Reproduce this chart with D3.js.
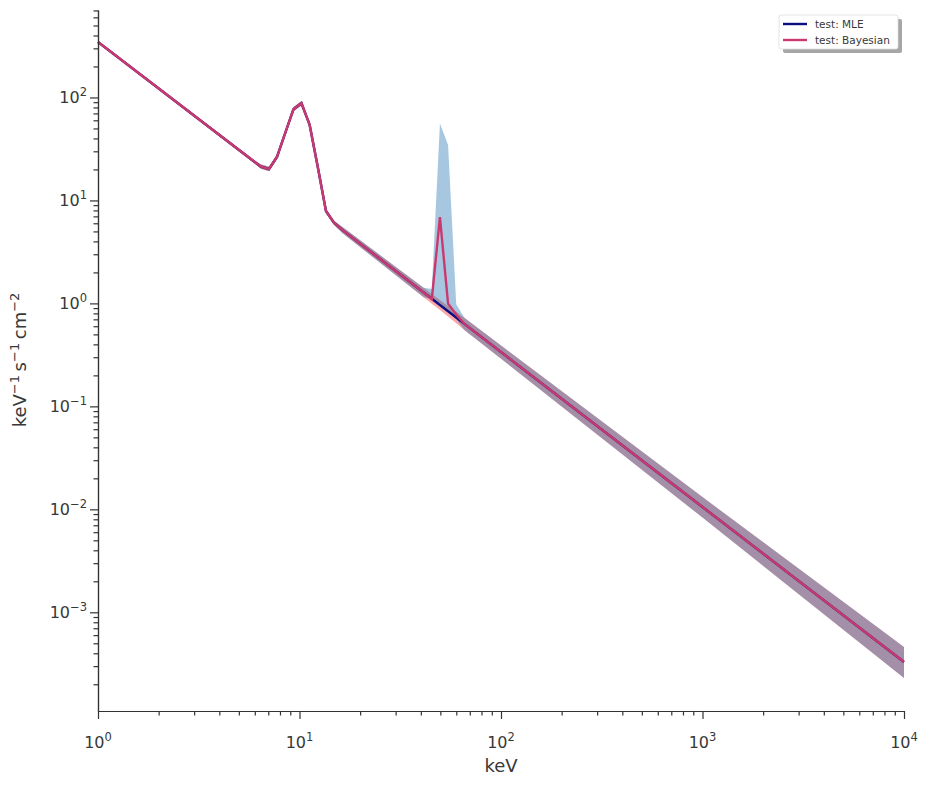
<!DOCTYPE html>
<html>
<head>
<meta charset="utf-8">
<script src="https://cdn.jsdelivr.net/npm/d3@7"></script>
<style>
  body { margin: 0; background: #fff; }
  text { font-family: "DejaVu Sans", sans-serif; fill: #383838; }
</style>
</head>
<body>
<svg id="chart" width="929" height="786"></svg>
<script>
// energies (keV) where the curves bend
var energy = [1, 5.86, 6.43, 7.06, 7.74, 8.50, 9.33, 10.23, 11.23, 12.33, 13.53, 14.85, 16.30,
              41.32, 45.35, 49.77, 54.62, 59.95, 65.79, 1000, 10000];

// MLE fit and its contour
var mleLine  = [346, 24.4, 21.3, 20.2, 26.6, 45.2, 76.8, 87.9, 54.1, 21.0, 7.9, 6.05, 5.18,
                1.276, 1.109, 0.964, 0.838, 0.729, 0.633, 0.01053, 3.29e-4];
var mleUpper = [354, 25.2, 22.4, 21.2, 27.9, 47.5, 80.6, 92.3, 56.8, 22.1, 8.30, 6.36, 5.56,
                1.415, 1.236, 1.076, 0.940, 0.830, 0.724, 0.01316, 4.6e-4];
var mleLower = [338, 23.6, 20.3, 19.2, 25.3, 43.0, 73.1, 83.7, 51.5, 20.0, 7.52, 5.76, 4.83,
                1.150, 0.994, 0.862, 0.746, 0.640, 0.553, 0.00832, 2.30e-4];

// Bayesian fit and its contour
var bayesLine  = [346, 24.4, 21.3, 20.2, 26.6, 45.2, 76.8, 87.9, 54.1, 21.0, 7.9, 6.05, 5.18,
                  1.276, 1.10, 6.87, 0.99, 0.78, 0.633, 0.01053, 3.29e-4];
var bayesUpper = [354, 25.2, 22.4, 21.2, 27.9, 47.5, 80.6, 92.3, 56.8, 22.1, 8.30, 6.36, 5.56,
                  1.415, 1.38, 56, 34.6, 0.98, 0.724, 0.01316, 4.6e-4];
var bayesLower = [338, 23.6, 20.3, 19.2, 25.3, 43.0, 73.1, 83.7, 51.5, 20.0, 7.52, 5.76, 4.83,
                  1.150, 1.11, 1.0, 0.86, 0.70, 0.553, 0.00832, 2.30e-4];

var xTicks = [1, 10, 100, 1000, 10000];
var xTickExp = ['0', '1', '2', '3', '4'];
var yTicks = [1e-3, 1e-2, 1e-1, 1, 10, 100];
var yTickExp = ['\u22123', '\u22122', '\u22121', '0', '1', '2'];

var legendNames = ['test: MLE', 'test: Bayesian'];
var colors = { mle: '#0d0d80', bayes: '#c9396f', mleBand: '#f24040', bayesBand: '#045fa6' };

var svg = d3.select('#chart');
var plotLeft = 98, plotRight = 904, plotTop = 10, plotBottom = 711;

var x = d3.scaleLog().domain([1, 1e4]).range([plotLeft, plotRight]);
var y = d3.scaleLog().domain([1.1e-4, 707]).range([plotBottom, plotTop]);

var rows = energy.map(function(e, i) {
    return { e: e, ml: mleLine[i], mu: mleUpper[i], mlo: mleLower[i],
             bl: bayesLine[i], bu: bayesUpper[i], blo: bayesLower[i] };
});

var plot = svg.append('g');

plot.append('path')
    .datum(rows)
    .attr('fill', colors.mleBand)
    .attr('fill-opacity', 0.45)
    .attr('d', d3.area()
        .x(function(d) { return x(d.e); })
        .y0(function(d) { return y(d.mlo); })
        .y1(function(d) { return y(d.mu); }));

plot.append('path')
    .datum(rows)
    .attr('fill', colors.bayesBand)
    .attr('fill-opacity', 0.35)
    .attr('d', d3.area()
        .x(function(d) { return x(d.e); })
        .y0(function(d) { return y(d.blo); })
        .y1(function(d) { return y(d.bu); }));

plot.append('path')
    .datum(rows)
    .attr('fill', 'none')
    .attr('stroke', colors.mle)
    .attr('stroke-width', 2.4)
    .attr('d', d3.line()
        .x(function(d) { return x(d.e); })
        .y(function(d) { return y(d.ml); }));

plot.append('path')
    .datum(rows)
    .attr('fill', 'none')
    .attr('stroke', colors.bayes)
    .attr('stroke-width', 2.4)
    .attr('d', d3.line()
        .x(function(d) { return x(d.e); })
        .y(function(d) { return y(d.bl); }));

// minor ticks
function minors(lo, hi) {
    var out = [];
    for (var p = Math.floor(Math.log10(lo)); p <= Math.ceil(Math.log10(hi)); p++) {
        for (var k = 2; k <= 9; k++) {
            var v = k * Math.pow(10, p);
            if (v >= lo && v <= hi) out.push(v);
        }
    }
    return out;
}

function styleAxis(g) {
    g.selectAll('path, line').attr('stroke', '#333').attr('stroke-width', 1.2);
    g.selectAll('text').remove();
}

svg.append('g')
    .attr('transform', 'translate(0,' + plotBottom + ')')
    .call(d3.axisBottom(x).tickValues(minors(1, 1e4)).tickSize(4.5).tickSizeOuter(0).tickFormat(''))
    .call(styleAxis);
svg.append('g')
    .attr('transform', 'translate(0,' + plotBottom + ')')
    .call(d3.axisBottom(x).tickValues(xTicks).tickSize(8).tickSizeOuter(0).tickFormat(''))
    .call(styleAxis);
svg.append('g')
    .attr('transform', 'translate(' + plotLeft + ',0)')
    .call(d3.axisLeft(y).tickValues(minors(1.1e-4, 707)).tickSize(4.5).tickSizeOuter(0).tickFormat(''))
    .call(styleAxis);
svg.append('g')
    .attr('transform', 'translate(' + plotLeft + ',0)')
    .call(d3.axisLeft(y).tickValues(yTicks).tickSize(8).tickSizeOuter(0).tickFormat(''))
    .call(styleAxis);

// tick labels with superscripts
xTicks.forEach(function(v, i) {
    var t = svg.append('text')
        .attr('x', x(v))
        .attr('y', 748)
        .attr('text-anchor', 'middle')
        .attr('font-size', 16);
    t.append('tspan').text('10');
    t.append('tspan').attr('dy', -7).attr('font-size', 11.5).text(xTickExp[i]);
});

yTicks.forEach(function(v, i) {
    var t = svg.append('text')
        .attr('x', 87)
        .attr('y', y(v) + 6)
        .attr('text-anchor', 'end')
        .attr('font-size', 16);
    t.append('tspan').text('10');
    t.append('tspan').attr('dy', -7).attr('font-size', 11.5).text(yTickExp[i]);
});

svg.append('text')
    .attr('x', (plotLeft + plotRight) / 2)
    .attr('y', 772)
    .attr('text-anchor', 'middle')
    .attr('font-size', 18)
    .text('keV');

var yl = svg.append('text')
    .attr('transform', 'translate(26,' + 360 + ') rotate(-90)')
    .attr('text-anchor', 'middle')
    .attr('font-size', 18);
yl.append('tspan').text('keV');
yl.append('tspan').attr('dy', -7).attr('font-size', 13).text('\u22121');
yl.append('tspan').attr('dy', 7).text('\u2009s');
yl.append('tspan').attr('dy', -7).attr('font-size', 13).text('\u22121');
yl.append('tspan').attr('dy', 7).text('\u2009cm');
yl.append('tspan').attr('dy', -7).attr('font-size', 13).text('\u22122');

// legend
var lg = svg.append('g').attr('transform', 'translate(779,15)');
lg.append('rect').attr('x', 4).attr('y', 4).attr('width', 119).attr('height', 34)
    .attr('rx', 2).attr('fill', '#a6a6a6');
lg.append('rect').attr('x', 0).attr('y', 0).attr('width', 119).attr('height', 34)
    .attr('rx', 2).attr('fill', '#fff').attr('stroke', '#dddddd').attr('stroke-width', 0.8);
[colors.mle, colors.bayes].forEach(function(c, i) {
    var yy = 9 + i * 16;
    lg.append('line').attr('x1', 4).attr('x2', 28).attr('y1', yy).attr('y2', yy)
        .attr('stroke', c).attr('stroke-width', 2.4);
    lg.append('text').attr('x', 36).attr('y', yy + 4).attr('font-size', 10.5).text(legendNames[i]);
});
</script>
</body>
</html>
